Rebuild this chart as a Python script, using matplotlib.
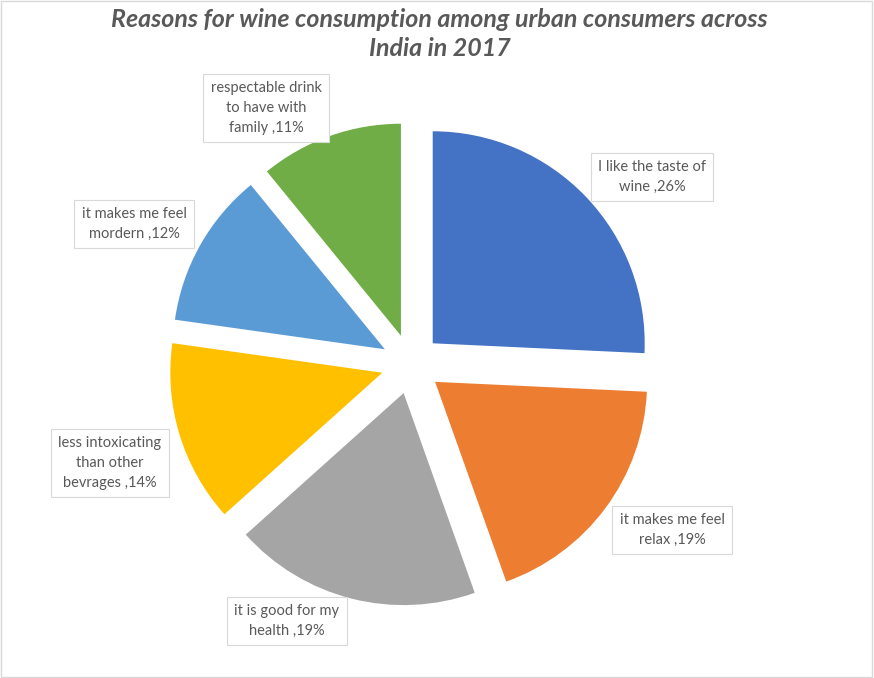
import numpy as np
import matplotlib
matplotlib.use("Agg")
import matplotlib.pyplot as plt
from matplotlib.patches import Rectangle

reasons = [
    "I like the taste of\nwine",
    "it makes me feel\nrelax",
    "it is good for my\nhealth",
    "less intoxicating\nthan other\nbevrages",
    "it makes me feel\nmordern",
    "respectable drink\nto have with\nfamily",
]
shares = [26, 19, 19, 14, 12, 11]

colors = ["#4472C4", "#ED7D31", "#A5A5A5", "#FFC000", "#5B9BD5", "#70AD47"]
# label box centres in pixels (x from left, y from top)
label_pos = [(652, 177), (672, 530), (287, 621), (110, 463), (134, 224), (266, 108)]

W, H = 874, 678
fig = plt.figure(figsize=(W / 100, H / 100), dpi=100)
ax = fig.add_axes([0, 0, 1, 1])

# explode is in data units here (pixels), not a fraction of the radius
ax.pie(shares, colors=colors, startangle=90, counterclock=False,
       center=(411, H - 364), radius=212, explode=[30] * len(shares),
       wedgeprops=dict(linewidth=0), frame=True)
ax.set_xlim(0, W)
ax.set_ylim(0, H)
ax.set_aspect("equal")
ax.axis("off")

for text, val, (px, py) in zip(reasons, shares, label_pos):
    ax.text(px, H - py, f"{text} ,{val}%", ha="center", va="center",
            fontsize=10.5, family="Lato", color="#595959", linespacing=1.55,
            bbox=dict(boxstyle="square,pad=0.5", fc="white", ec="#D9D9D9", lw=0.8))

fig.text(0.503, 1 - 34 / H,
         "Reasons for wine consumption among urban consumers across\nIndia in 2017",
         ha="center", va="center", fontsize=18, family="Lato",
         fontweight="bold", fontstyle="italic", color="#595959", linespacing=1.3)

fig.add_artist(Rectangle((0.001, 0.001), 0.997, 0.997, transform=fig.transFigure,
                         fill=False, ec="#D9D9D9", lw=1))

fig.savefig("out.png", dpi=100)
